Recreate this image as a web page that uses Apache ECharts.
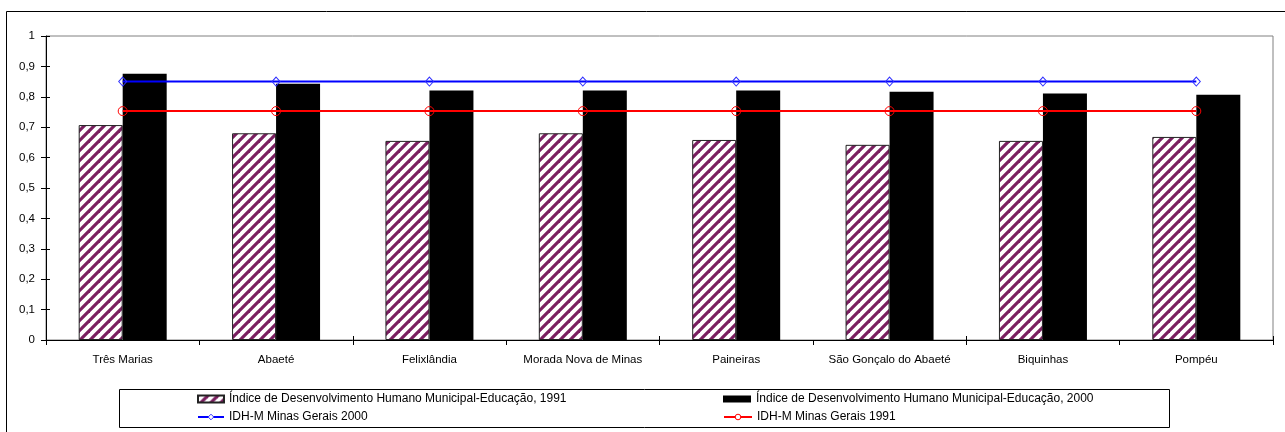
<!DOCTYPE html>
<html>
<head>
<meta charset="utf-8">
<script src="https://cdn.jsdelivr.net/npm/echarts@6/dist/echarts.min.js"></script>
<style>
  html, body { margin: 0; padding: 0; background: #fff; }
  #chart { width: 1285px; height: 432px; }
</style>
</head>
<body>
<div id="chart"></div>
<script>
// Municipalities along the x axis
const municipios = ['Três Marias', 'Abaeté', 'Felixlândia', 'Morada Nova de Minas',
  'Paineiras', 'São Gonçalo do Abaeté', 'Biquinhas', 'Pompéu'];

// IDH-M Educação per municipality
const idhmEducacao1991 = [0.707, 0.680, 0.655, 0.680, 0.658, 0.642, 0.655, 0.668];
const idhmEducacao2000 = [0.876, 0.843, 0.821, 0.821, 0.821, 0.817, 0.811, 0.807];

// State reference values (Minas Gerais)
const minasGerais2000 = [0.850, 0.850, 0.850, 0.850, 0.850, 0.850, 0.850, 0.850];
const minasGerais1991 = [0.753, 0.753, 0.753, 0.753, 0.753, 0.753, 0.753, 0.753];

// Series names
const nome1991 = 'Índice de Desenvolvimento Humano Municipal-Educação, 1991';
const nome2000 = 'Índice de Desenvolvimento Humano Municipal-Educação, 2000';
const nomeMG2000 = 'IDH-M Minas Gerais 2000';
const nomeMG1991 = 'IDH-M Minas Gerais 1991';

// Diagonal purple hatch used for the 1991 bars
function hatchPattern() {
  const c = document.createElement('canvas');
  c.width = 10; c.height = 10;
  const g = c.getContext('2d');
  g.fillStyle = '#ffffff';
  g.fillRect(0, 0, 10, 10);
  g.strokeStyle = '#7a1f60';
  g.lineWidth = 3.2;
  [[-5, 5, 5, -5], [0, 10, 10, 0], [5, 15, 15, 5]].forEach(([x1, y1, x2, y2]) => {
    g.beginPath(); g.moveTo(x1, y1); g.lineTo(x2, y2); g.stroke();
  });
  return { image: c, repeat: 'repeat' };
}

const FONT = '"Liberation Sans", Arial, sans-serif';
const chart = echarts.init(document.getElementById('chart'), null, { renderer: 'canvas' });

const fmtY = v => parseFloat(Number(v).toFixed(1)).toString().replace('.', ',');

const legendText = { fontFamily: FONT, fontSize: 12, color: '#000' };
const legendBase = { itemGap: 0, padding: 0, itemHeight: 7, textStyle: legendText };

chart.setOption({
  animation: false,
  backgroundColor: '#fff',
  textStyle: { fontFamily: FONT },
  grid: {
    left: 46, right: 12, top: 36, bottom: 92,
    show: true, borderColor: '#808080', borderWidth: 1, backgroundColor: 'transparent'
  },
  legend: [
    Object.assign({ data: [{ name: nome1991, icon: 'rect' }], left: 197, top: 393, itemWidth: 26 }, legendBase),
    Object.assign({ data: [nomeMG2000], left: 197, top: 411, itemWidth: 26,
      itemStyle: { color: '#fff', borderColor: '#3030ff', borderWidth: 1 } }, legendBase),
    Object.assign({ data: [{ name: nome2000, icon: 'rect' }], left: 723, top: 393, itemWidth: 28 }, legendBase),
    Object.assign({ data: [nomeMG1991], left: 723, top: 411, itemWidth: 28,
      itemStyle: { color: '#fff', borderColor: '#ff0000', borderWidth: 1 } }, legendBase)
  ],
  graphic: [
    { type: 'rect', silent: true, z: -1,
      shape: { x: 6.5, y: 11.5, width: 1400, height: 500 },
      style: { fill: 'none', stroke: '#000', lineWidth: 1 } },
    { type: 'rect', silent: true,
      shape: { x: 119.5, y: 389.5, width: 1050, height: 38 },
      style: { fill: 'none', stroke: '#000', lineWidth: 1 } }
  ],
  xAxis: [
    {
      type: 'category', data: municipios, position: 'bottom', boundaryGap: true,
      axisLine: { show: true, lineStyle: { color: '#000', width: 1 } },
      axisTick: { show: true, length: 5, lineStyle: { color: '#000' } },
      axisLabel: { color: '#000', fontSize: 11.5, fontFamily: FONT, margin: 14, interval: 0 },
      splitLine: { show: false }
    },
    {
      type: 'category', data: municipios, position: 'bottom', boundaryGap: true,
      axisLine: { show: false },
      axisTick: { show: true, inside: true, length: 4, lineStyle: { color: '#000' } },
      axisLabel: { show: false },
      splitLine: { show: false }
    }
  ],
  yAxis: [
    {
      type: 'value', min: 0, max: 1, interval: 0.1, position: 'left',
      axisLine: { show: true, lineStyle: { color: '#000', width: 1 } },
      axisTick: { show: true, length: 5, lineStyle: { color: '#000' } },
      axisLabel: { color: '#000', fontSize: 11.5, fontFamily: FONT, margin: 11, formatter: fmtY },
      splitLine: { show: false }
    },
    {
      type: 'value', min: 0, max: 1, interval: 0.1, position: 'left',
      axisLine: { show: false },
      axisTick: { show: true, inside: true, length: 4, lineStyle: { color: '#000' } },
      axisLabel: { show: false },
      splitLine: { show: false }
    }
  ],
  series: [
    {
      name: nome1991, type: 'bar', data: idhmEducacao1991,
      barWidth: 44, barGap: '0%',
      itemStyle: { color: hatchPattern(), borderColor: '#222', borderWidth: 1 }
    },
    {
      name: nome2000, type: 'bar', data: idhmEducacao2000,
      barWidth: 44, barGap: '0%',
      itemStyle: { color: '#000', borderColor: '#000', borderWidth: 0 }
    },
    {
      name: nomeMG2000, type: 'line', data: minasGerais2000, z: 5,
      symbol: 'diamond', symbolSize: [8, 9], showSymbol: true,
      lineStyle: { color: '#0000ff', width: 2 },
      itemStyle: { color: 'rgba(255,255,255,0)', borderColor: '#3030ff', borderWidth: 1 }
    },
    {
      name: nomeMG1991, type: 'line', data: minasGerais1991, z: 5,
      symbol: 'circle', symbolSize: 9, showSymbol: true,
      lineStyle: { color: '#ff0000', width: 2 },
      itemStyle: { color: 'rgba(255,255,255,0)', borderColor: '#ff0000', borderWidth: 1 }
    }
  ]
});
</script>
</body>
</html>
